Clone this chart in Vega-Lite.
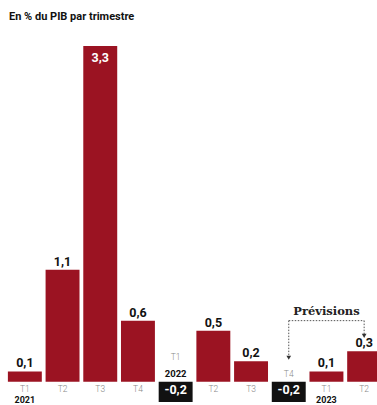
{
  "$schema": "https://vega.github.io/schema/vega-lite/v6.json",
  "autosize": "none",
  "width": 371,
  "height": 356,
  "padding": {"left": 6, "top": 46, "right": 0, "bottom": 3},
  "background": "white",
  "title": {
    "text": "En % du PIB par trimestre",
    "anchor": "start",
    "frame": "group",
    "orient": "top",
    "offset": 24,
    "dx": 3,
    "font": "Roboto",
    "fontSize": 11,
    "fontWeight": "bold",
    "color": "#111111"
  },
  "config": {
    "view": {"stroke": null},
    "text": {"font": "Roboto"}
  },
  "datasets": {
    "pib": [
      {"periode": "2021-T1", "trimestre": "T1", "annee": "2021", "variation": 0.1, "etiquette": "0,1"},
      {"periode": "2021-T2", "trimestre": "T2", "annee": "", "variation": 1.1, "etiquette": "1,1"},
      {"periode": "2021-T3", "trimestre": "T3", "annee": "", "variation": 3.3, "etiquette": "3,3"},
      {"periode": "2021-T4", "trimestre": "T4", "annee": "", "variation": 0.6, "etiquette": "0,6"},
      {"periode": "2022-T1", "trimestre": "T1", "annee": "2022", "variation": -0.2, "etiquette": "-0,2"},
      {"periode": "2022-T2", "trimestre": "T2", "annee": "", "variation": 0.5, "etiquette": "0,5"},
      {"periode": "2022-T3", "trimestre": "T3", "annee": "", "variation": 0.2, "etiquette": "0,2"},
      {"periode": "2022-T4", "trimestre": "T4", "annee": "", "variation": -0.2, "etiquette": "-0,2"},
      {"periode": "2023-T1", "trimestre": "T1", "annee": "2023", "variation": 0.1, "etiquette": "0,1"},
      {"periode": "2023-T2", "trimestre": "T2", "annee": "", "variation": 0.3, "etiquette": "0,3"}
    ],
    "previsions_fleches": [
      {"periode": "2022-T4", "haut": 0.6, "pointe": 0.235},
      {"periode": "2023-T2", "haut": 0.6, "pointe": 0.45}
    ],
    "previsions_cadre": [
      {"debut": "2022-T4", "fin": "2023-T2", "niveau": 0.6, "texte": "Prévisions", "milieu": "2023-T1"}
    ]
  },
  "data": {"name": "pib"},
  "encoding": {
    "x": {
      "field": "periode",
      "type": "nominal",
      "sort": null,
      "axis": null,
      "scale": {"range": [0, 377], "paddingInner": 0.1, "paddingOuter": 0.05}
    }
  },
  "layer": [
    {
      "mark": {"type": "bar", "clip": false},
      "encoding": {
        "y": {
          "field": "variation",
          "type": "quantitative",
          "axis": null,
          "scale": {"domain": [-0.2, 3.3], "nice": false, "zero": true}
        },
        "color": {
          "condition": {"test": "datum.variation < 0", "value": "#111111"},
          "value": "#9b1322"
        }
      }
    },
    {
      "transform": [{"filter": "datum.variation >= 0 && datum.variation < 3"}],
      "mark": {"type": "text", "baseline": "alphabetic", "dy": -4, "fontSize": 12.5, "fontWeight": "bold", "color": "#111111"},
      "encoding": {
        "y": {"field": "variation", "type": "quantitative"},
        "text": {"field": "etiquette"}
      }
    },
    {
      "transform": [{"filter": "datum.variation >= 3"}],
      "mark": {"type": "text", "baseline": "top", "dy": 6, "fontSize": 12.5, "fontWeight": "bold", "color": "white"},
      "encoding": {
        "y": {"field": "variation", "type": "quantitative"},
        "text": {"field": "etiquette"}
      }
    },
    {
      "transform": [{"filter": "datum.variation < 0"}],
      "mark": {"type": "text", "baseline": "middle", "dy": -12, "fontSize": 12.5, "fontWeight": "bold", "color": "white"},
      "encoding": {
        "y": {"field": "variation", "type": "quantitative"},
        "text": {"field": "etiquette"}
      }
    },
    {
      "transform": [{"filter": "datum.variation >= 0"}],
      "mark": {"type": "text", "baseline": "top", "dy": 3, "fontSize": 8.5, "fontWeight": 300, "color": "#8a8a8a"},
      "encoding": {
        "y": {"datum": 0, "type": "quantitative"},
        "text": {"field": "trimestre"}
      }
    },
    {
      "transform": [{"filter": "datum.variation >= 0 && datum.annee != ''"}],
      "mark": {"type": "text", "baseline": "top", "dy": 14, "fontSize": 9, "fontWeight": "bold", "color": "#111111"},
      "encoding": {
        "y": {"datum": 0, "type": "quantitative"},
        "text": {"field": "annee"}
      }
    },
    {
      "transform": [{"filter": "datum.variation < 0 && datum.annee != ''"}],
      "mark": {"type": "text", "baseline": "alphabetic", "dy": -5, "fontSize": 9.5, "fontWeight": "bold", "color": "#111111"},
      "encoding": {
        "y": {"datum": 0, "type": "quantitative"},
        "text": {"field": "annee"}
      }
    },
    {
      "transform": [{"filter": "datum.variation < 0 && datum.annee != ''"}],
      "mark": {"type": "text", "baseline": "alphabetic", "dy": -22, "fontSize": 8.5, "fontWeight": 300, "color": "#8a8a8a"},
      "encoding": {
        "y": {"datum": 0, "type": "quantitative"},
        "text": {"field": "trimestre"}
      }
    },
    {
      "transform": [{"filter": "datum.variation < 0 && datum.annee == ''"}],
      "mark": {"type": "text", "baseline": "alphabetic", "dy": -5, "fontSize": 8.5, "fontWeight": 300, "color": "#8a8a8a"},
      "encoding": {
        "y": {"datum": 0, "type": "quantitative"},
        "text": {"field": "trimestre"}
      }
    },
    {
      "data": {"name": "previsions_fleches"},
      "mark": {"type": "rule", "strokeDash": [1.5, 1.5], "strokeWidth": 1, "color": "#555555"},
      "encoding": {
        "x": {"field": "periode", "type": "nominal", "sort": null},
        "y": {"field": "haut", "type": "quantitative"},
        "y2": {"field": "pointe"}
      }
    },
    {
      "data": {"name": "previsions_fleches"},
      "mark": {"type": "point", "shape": "triangle-down", "filled": true, "size": 22, "color": "#333333", "opacity": 1},
      "encoding": {
        "x": {"field": "periode", "type": "nominal", "sort": null},
        "y": {"field": "pointe", "type": "quantitative"}
      }
    },
    {
      "data": {"name": "previsions_cadre"},
      "mark": {"type": "rule", "strokeDash": [1.5, 1.5], "strokeWidth": 1, "color": "#555555"},
      "encoding": {
        "x": {"field": "debut", "type": "nominal", "sort": null},
        "x2": {"field": "fin"},
        "y": {"field": "niveau", "type": "quantitative"}
      }
    },
    {
      "data": {"name": "previsions_cadre"},
      "mark": {"type": "text", "baseline": "alphabetic", "dy": -6, "font": "DejaVu Serif", "fontSize": 11.5, "fontWeight": "bold", "color": "#222222"},
      "encoding": {
        "x": {"field": "milieu", "type": "nominal", "sort": null},
        "y": {"field": "niveau", "type": "quantitative"},
        "text": {"field": "texte"}
      }
    }
  ]
}
